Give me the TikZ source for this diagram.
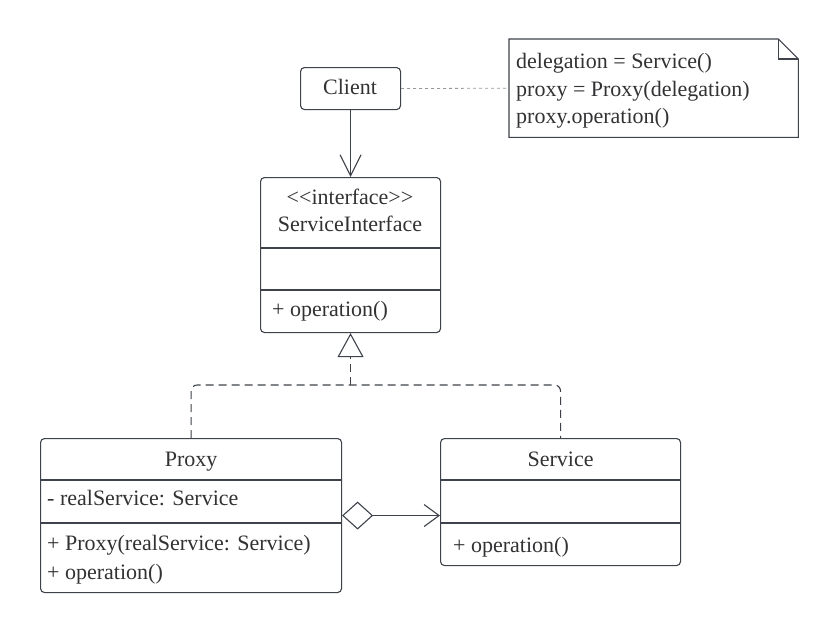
\documentclass[tikz,border=0pt]{standalone}
\usepackage{fontspec}
\setmainfont{Liberation Serif}
\usetikzlibrary{arrows.meta,calc}
\definecolor{ln}{RGB}{62,66,74}
\definecolor{tx}{RGB}{50,50,52}
\definecolor{lk}{RGB}{150,152,158}
\begin{document}
\begin{tikzpicture}[x=1pt,y=-1pt,
  box/.style={draw=ln, line width=1.1pt, rounded corners=4pt, inner sep=0pt, anchor=north west},
  lbl/.style={text=tx, font=\fontsize{22}{27}\selectfont, inner sep=0pt},
  ctr/.style={lbl, anchor=base},
  lft/.style={lbl, anchor=base west},
  conn/.style={draw=ln, line width=1.1pt},
  dashline/.style={conn, dash pattern=on 8pt off 5pt},
  divider/.style={draw=ln, line width=1.1pt}]
\useasboundingbox (0,0) rectangle (840,634);

% Client
\node[box, minimum width=100pt, minimum height=42pt] (client) at (300,67) {};
\node[ctr] (clientT) at (350,94) {Client};

% Note
\node[inner sep=0pt, minimum width=289pt, minimum height=98pt, anchor=north west] (note) at (509,39) {};
\draw[conn] (note.north west) -- ($(note.north east)+(-20,0)$) -- ($(note.north east)+(0,20)$) -- (note.south east) -- (note.south west) -- cycle;
\draw[conn] ($(note.north east)+(-20,0)$) -- ($(note.north east)+(-20,20)$) -- ($(note.north east)+(0,20)$);
\node[lft] (n1) at (516,69) {delegation = Service()};
\node[lft] (n2) at (516,96) {proxy = Proxy(delegation)};
\node[lft] (n3) at (516,123) {proxy.operation()};
\draw[draw=lk, line width=0.8pt, dash pattern=on 3pt off 3pt] (client.east) -- (note.west);

% ServiceInterface
\node[box, minimum width=180pt, minimum height=155pt] (si) at (260,177) {};
\node[ctr] (si1) at (350,204) {<\kern0pt<interface>\kern0pt>};
\node[ctr] (si2) at (350,231) {ServiceInterface};
\draw[divider] (si.west |- 0,248) -- (si.east |- 0,248);
\draw[divider] (si.west |- 0,290) -- (si.east |- 0,290);
\node[lft] (si3) at (272,316) {+ operation()};

% Proxy
\node[box, minimum width=301pt, minimum height=154pt] (proxy) at (40,438) {};
\node[ctr] (p1) at (proxy.center |- 0,466) {Proxy};
\draw[divider] (proxy.west |- 0,480) -- (proxy.east |- 0,480);
\node[lft] (p2) at (47,505) {- realService: Service};
\draw[divider] (proxy.west |- 0,523) -- (proxy.east |- 0,523);
\node[lft] (p3) at (47,550) {+ Proxy(realService: Service)};
\node[lft] (p4) at (47,579) {+ operation()};

% Service
\node[box, minimum width=240pt, minimum height=127pt] (service) at (440,438) {};
\node[ctr] (s1) at (service.center |- 0,466) {Service};
\draw[divider] (service.west |- 0,480) -- (service.east |- 0,480);
\draw[divider] (service.west |- 0,523) -- (service.east |- 0,523);
\node[lft] (s2) at (453,552) {+ operation()};

% Connectors
\draw[conn, -{Straight Barb[length=21pt, width=21pt]}] (client.south) -- (client.south |- si.north);
\coordinate (j) at (si.south |- 0,385);
\draw[dashline, rounded corners=6pt] (proxy.north) |- (j) -| (service.north);
\draw[dashline, -{Triangle[open, length=24pt, width=26pt]}] (j) -- (si.south);
\draw[conn, {Diamond[open, length=31pt, width=28pt]}-{Straight Barb[length=15pt, width=22pt]}] (proxy.east) -- (proxy.east -| service.west);
\end{tikzpicture}
\end{document}
